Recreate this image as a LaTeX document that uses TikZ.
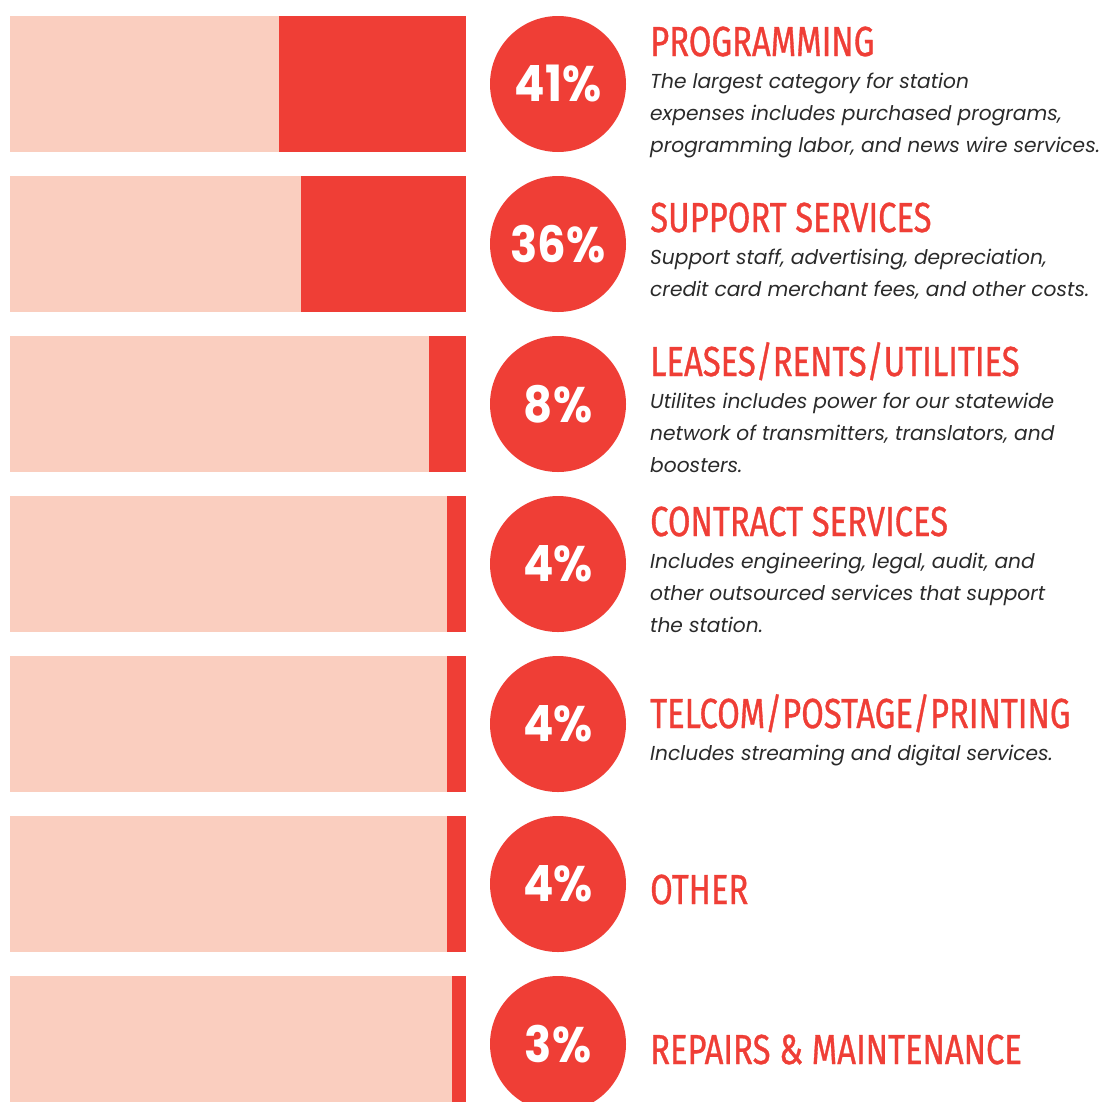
\documentclass[tikz,border=0pt]{standalone}
\usepackage{fontspec}
\newfontfamily\titlefont[FakeStretch=0.78,FakeBold=0.8]{Fira Sans}
\newfontfamily\pctfont[FakeStretch=0.9]{Poppins}
\newfontfamily\descfont{Poppins}
\definecolor{barred}{HTML}{EF3E36}
\definecolor{barlight}{HTML}{FACEBF}
\definecolor{desccol}{HTML}{2A2A2A}
\tikzset{
  pctcircle/.style={circle, fill=barred, minimum size=136pt, inner sep=0pt, text=white,
    font=\pctfont\bfseries\fontsize{50}{50}\selectfont},
  titletext/.style={anchor=base west, inner sep=0pt, text=barred,
    font=\titlefont\fontsize{42}{42}\selectfont},
  desctext/.style={anchor=base west, inner sep=0pt, text=desccol,
    font=\descfont\itshape\fontsize{20.2}{32}\selectfont},
  lightbar/.style={fill=barlight},
  redbar/.style={fill=barred}
}
% #1 id, #2 top, #3 red start, #4 percent, #5 title, #6 number of description lines, #7 description lines
\newcommand\chartrow[7]{%
  \fill[lightbar] (10,#2) rectangle (#3,#2+136);
  \fill[redbar] (#3,#2) rectangle (466,#2+136);
  \node[pctcircle] (c#1) at (558,#2+68) {#4};
  \node[titletext] (t#1) at (650,#2+88-16*#6) {#5};
  \if\relax\detokenize{#7}\relax\else
  \node[desctext] (d#1) at (650,#2+120-16*#6) {\vtop{#7}};
  \fi
}
\begin{document}
\begin{tikzpicture}[x=1pt,y=-1pt]
\useasboundingbox (0,0) rectangle (1118,1101);
\clip (0,0) rectangle (1118,1101);
\chartrow{1}{16}{279}{41\%}{PROGRAMMING}{3}{\hbox{The largest category for station}\hbox{expenses includes purchased programs,}\hbox{programming labor, and news wire services.}}
\chartrow{2}{176}{301}{36\%}{SUPPORT SERVICES}{2}{\hbox{Support staff, advertising, depreciation,}\hbox{credit card merchant fees, and other costs.}}
\chartrow{3}{336}{429}{8\%}{LEASES/RENTS/UTILITIES}{3}{\hbox{Utilites includes power for our statewide}\hbox{network of transmitters, translators, and}\hbox{boosters.}}
\chartrow{4}{496}{447}{4\%}{CONTRACT SERVICES}{3}{\hbox{Includes engineering, legal, audit, and}\hbox{other outsourced services that support}\hbox{the station.}}
\chartrow{5}{656}{447}{4\%}{TELCOM/POSTAGE/PRINTING}{1}{\hbox{Includes streaming and digital services.}}
\chartrow{6}{816}{447}{4\%}{OTHER}{0}{}
\chartrow{7}{976}{452}{3\%}{REPAIRS \& MAINTENANCE}{0}{}
\end{tikzpicture}
\end{document}
